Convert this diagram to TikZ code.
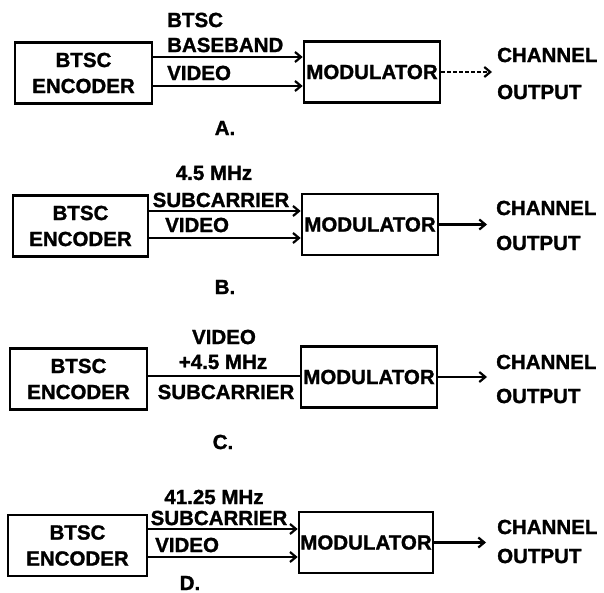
\documentclass[tikz,border=0pt]{standalone}
\usepackage{fontspec}
\setmainfont{Liberation Sans}[BoldFeatures={FakeBold=1.3}]
\usetikzlibrary{arrows.meta,positioning}

\begin{document}
\begin{tikzpicture}[
  x=1pt, y=-1pt,
  every node/.style={font=\bfseries\fontsize{20.5}{26}\selectfont, inner sep=0pt},
  block/.style={draw=black, line width=2.6pt, minimum width=137pt, minimum height=61pt, align=center},
  lbl/.style={anchor=west},
  outlbl/.style={anchor=west, align=left},
  arr/.style={-{Straight Barb[length=6pt,width=10pt]}, line width=2.2pt},
  feed/.style={line width=2.2pt}
]
\useasboundingbox (0,0) rectangle (604,593);

% A: baseband + video
\node[block] (encA) at (83.5,73) {BTSC\\ENCODER};
\node[block, minimum width=136pt] (modA) at (372,72) {MODULATOR};
\node[lbl] (bbA1) at (167,20) {BTSC};
\node[lbl] (bbA2) at (167,45) {BASEBAND};
\node[lbl] (vidA) at (167,73) {VIDEO};
\node[outlbl] (outA) at (497,73.5) {CHANNEL\\[11pt]OUTPUT};
\node (capA) at (225,128) {A.};
\draw[arr] (encA.east |- 0,57) -- (modA.west |- 0,57);
\draw[arr] (encA.east |- 0,86) -- (modA.west |- 0,86);
\draw[arr, dash pattern=on 4pt off 2pt, shorten >=5pt] (modA.east) -- (modA.east -| outA.west);

% B: 4.5 MHz subcarrier + video
\node[block, minimum width=135pt] (encB) at (80.5,226) {BTSC\\ENCODER};
\node[block, minimum width=136pt] (modB) at (370,224.5) {MODULATOR};
\node (scB1) at (214,173) {4.5 MHz};
\node (scB2) at (221,200) {SUBCARRIER};
\node[lbl] (vidB) at (165,225) {VIDEO};
\node[outlbl] (outB) at (496,225.5) {CHANNEL\\[9pt]OUTPUT};
\node (capB) at (225,287) {B.};
\draw[arr] (encB.east |- 0,211) -- (modB.west |- 0,211);
\draw[arr] (encB.east |- 0,238) -- (modB.west |- 0,238);
\draw[arr, shorten >=9pt] (modB.east) -- (modB.east -| outB.west);

% C: combined signal
\node[block] (encC) at (78.5,379) {BTSC\\ENCODER};
\node[block, minimum width=136pt] (modC) at (369,377) {MODULATOR};
\node (cmC1) at (224,337) {VIDEO};
\node (cmC2) at (223,362) {+4.5 MHz};
\node (cmC3) at (226,392) {SUBCARRIER};
\node[outlbl] (outC) at (496,379) {CHANNEL\\[8pt]OUTPUT};
\node (capC) at (223,442) {C.};
\draw[feed] (encC.east |- 0,376) -- (modC.west |- 0,376);
\draw[arr, shorten >=9pt] (modC.east) -- (modC.east -| outC.west);

% D: 41.25 MHz subcarrier + video
\node[block, minimum width=139pt] (encD) at (77.5,545.5) {BTSC\\ENCODER};
\node[block, minimum width=134pt] (modD) at (366,542.5) {MODULATOR};
\node (scD1) at (214,497) {41.25 MHz};
\node (scD2) at (219,518) {SUBCARRIER};
\node[lbl] (vidD) at (155,545) {VIDEO};
\node[outlbl] (outD) at (497,541.5) {CHANNEL\\[3pt]OUTPUT};
\node (capD) at (190,583) {D.};
\draw[arr] (encD.east |- 0,529) -- (modD.west |- 0,529);
\draw[arr] (encD.east |- 0,557) -- (modD.west |- 0,557);
\draw[arr, shorten >=11pt] (modD.east) -- (modD.east -| outD.west);
\end{tikzpicture}
\end{document}
